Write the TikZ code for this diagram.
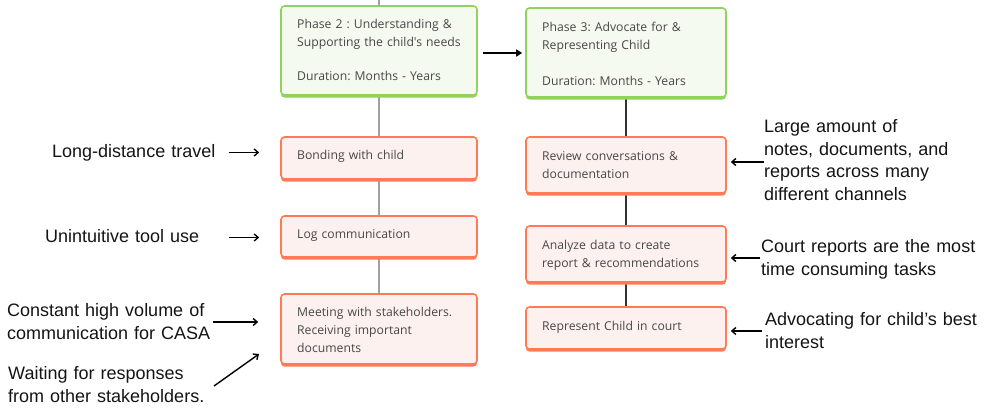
\documentclass[tikz,border=0pt]{standalone}
\usepackage{fontspec}
\setmainfont{Liberation Sans}
\newfontfamily\boxfont{Open Sans}
\usetikzlibrary{arrows.meta,shadows,backgrounds}
\frenchspacing
\definecolor{gbord}{HTML}{8FD35E}
\definecolor{gfill}{HTML}{F5FAF0}
\definecolor{obord}{HTML}{FF7A55}
\definecolor{ofill}{HTML}{FDF1EF}
\definecolor{btext}{HTML}{474747}
\definecolor{glin}{HTML}{A0A0A0}
\definecolor{dlin}{HTML}{333333}
\begin{document}
\begin{tikzpicture}[x=1pt,y=-1pt,
  greencard/.style={rectangle, rounded corners=3.5pt, line width=1.6pt, inner sep=0pt,
    draw=gbord, fill=gfill,
    drop shadow={shadow xshift=0pt, shadow yshift=-2.6pt, opacity=1, fill=gbord}},
  orangecard/.style={rectangle, rounded corners=3.5pt, line width=1.6pt, inner sep=0pt,
    draw=obord, fill=ofill,
    drop shadow={shadow xshift=0pt, shadow yshift=-2.6pt, opacity=1, fill=obord}},
  btxt/.style={font=\boxfont\fontsize{12.2}{18}\selectfont\frenchspacing, text=btext, anchor=base west,
    inner sep=0pt, text width=185pt, align=left},
  ann/.style={font=\fontsize{18}{22.5}\selectfont\frenchspacing, text=black!92, anchor=base west,
    inner sep=0pt, text width=225pt, align=left},
  arr/.style={line width=1.4pt, black, -{Straight Barb[length=4pt,width=7pt]}},
  arrtri/.style={line width=1.6pt, black, -{Triangle[length=6pt,width=7pt]}},
  glinestyle/.style={line width=1.2pt, glin},
  dlinestyle/.style={line width=1.4pt, dlin}]
\useasboundingbox (0,0) rectangle (989,414);

% left column boxes
\node[greencard, minimum width=196pt, minimum height=89pt] (p2) at (379,50.5) {};
\node[orangecard, minimum width=196pt, minimum height=42pt] (bond) at (379,158) {};
\node[orangecard, minimum width=196pt, minimum height=41pt] (logc) at (379,236.5) {};
\node[orangecard, minimum width=196pt, minimum height=70pt] (meet) at (379,329) {};

% right column boxes
\node[greencard, minimum width=200pt, minimum height=89pt] (p3) at (626,52.5) {};
\node[orangecard, minimum width=200pt, minimum height=56pt] (rev) at (626,165) {};
\node[orangecard, minimum width=200pt, minimum height=56pt] (ana) at (626,254) {};
\node[orangecard, minimum width=200pt, minimum height=42pt] (rep) at (626,328) {};

% box texts
\node[btxt] (tp2) at (297,28.5) {Phase 2 : Understanding \&\\Supporting the child\symbol{39}s needs\\[16pt]Duration: Months - Years};
\node[btxt] (tp3) at (542,31.5) {Phase 3: Advocate for \&\\Representing Child\\[18pt]Duration: Months - Years};
\node[btxt] (tbond) at (297,159.5) {Bonding with child};
\node[btxt] (tlog) at (297,238.5) {Log communication};
\node[btxt] (tmeet) at (297,316.5) {Meeting with stakeholders.\\Receiving important\\documents};
\node[btxt] (trev) at (542,160.5) {Review conversations \&\\documentation};
\node[btxt] (tana) at (542,249.5) {Analyze data to create\\report \& recommendations};
\node[btxt] (trep) at (542,330.5) {Represent Child in court};

% connectors
\begin{scope}[on background layer]
\coordinate (top) at (379,0);
\draw[glinestyle] (top) -- (p2.north);
\draw[glinestyle] (p2.south) -- (bond.north);
\draw[glinestyle] (bond.south) -- (logc.north);
\draw[glinestyle] (logc.south) -- (meet.north);
\draw[dlinestyle] (p3.south) -- (rev.north);
\draw[dlinestyle] (rev.south) -- (ana.north);
\draw[dlinestyle] (ana.south) -- (rep.north);
\end{scope}
\coordinate (pa) at (483,53);
\draw[arrtri, shorten >=3pt] (pa) -- (pa -| p3.west);

% annotations left
\node[ann] (a1) at (52,158) {Long-distance travel};
\node[ann] (a2) at (45,243) {Unintuitive tool use};
\node[ann] (a3) at (7,317) {Constant high volume of\\communication for CASA};
\node[ann] (a4) at (8,380) {Waiting for responses\\from other stakeholders.};

\coordinate (s1) at (229,152.5);
\coordinate (s2) at (229,237.5);
\coordinate (s3) at (213,322);
\coordinate (s4) at (214,386);
\coordinate (e4) at (259,354);
\draw[arr, shorten >=21pt] (s1) -- (s1 -| bond.west);
\draw[arr, shorten >=21pt] (s2) -- (s2 -| logc.west);
\draw[arr, shorten >=22pt] (s3) -- (s3 -| meet.west);
\draw[arr] (s4) -- (e4);

% annotations right
\node[ann] (a5) at (764,133) {Large amount of\\notes, documents, and\\reports across many\\different channels};
\node[ann] (a6) at (761,253) {Court reports are the most\\time consuming tasks};
\node[ann] (a7) at (765,326) {Advocating for child’s best\\interest};

\coordinate (s5) at (764,162);
\coordinate (s6) at (760,258);
\coordinate (s7) at (762,331);
\draw[arr, shorten >=4pt] (s5) -- (s5 -| rev.east);
\draw[arr, shorten >=4pt] (s6) -- (s6 -| ana.east);
\draw[arr, shorten >=4pt] (s7) -- (s7 -| rep.east);
\end{tikzpicture}
\end{document}
